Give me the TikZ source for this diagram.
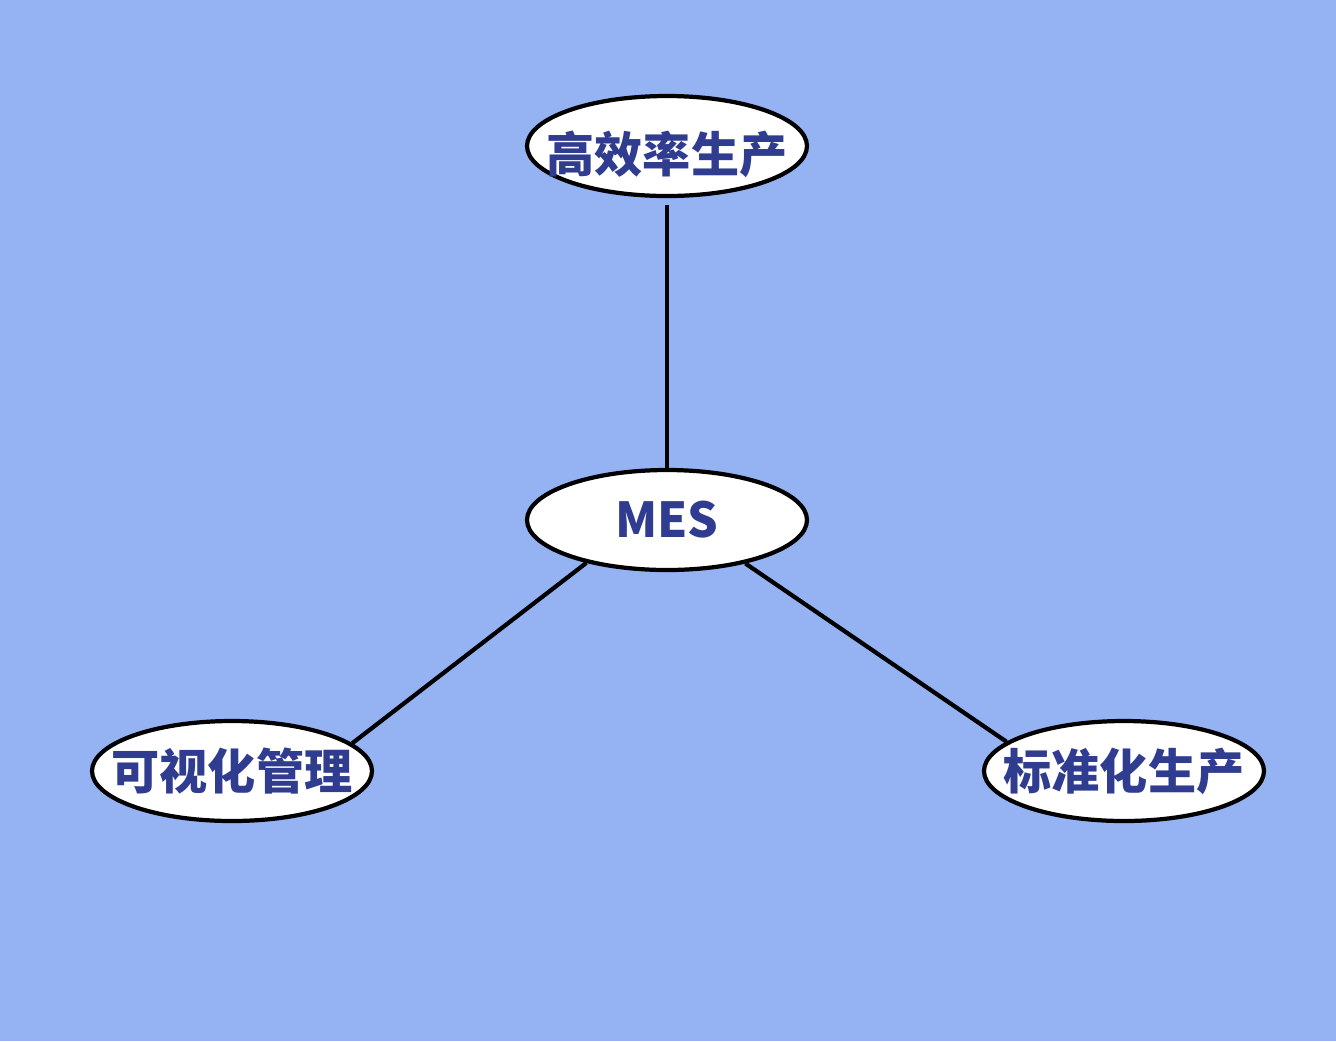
\documentclass[tikz,border=0pt]{standalone}
\usepackage{fontspec}
\usepackage{tikz}
\usetikzlibrary{shapes.geometric}
\newfontfamily\cjk{Noto Sans CJK SC}
\definecolor{bgblue}{HTML}{95B3F3}
\definecolor{inkblue}{HTML}{2F3C8F}
\tikzset{oval/.style={ellipse,draw=black,line width=1.2pt,fill=white,minimum width=28mm,minimum height=10mm,inner sep=0pt,text=inkblue,font=\cjk\bfseries\fontsize{13.7}{16}\selectfont},
link/.style={line width=1.2pt,draw=black}}
\newcommand\ovaltext[1]{\makebox[0pt]{#1}}

\begin{document}
\begin{tikzpicture}
\fill[bgblue] (0,0) rectangle (13.36,-10.41);
\useasboundingbox (0,0) rectangle (13.36,-10.41);
\node[oval] (eff) at (6.67,-1.46) {\ovaltext{\raisebox{-2.5pt}[\height][\depth]{高效率生产}}};
\node[oval] (mes) at (6.67,-5.20) {\ovaltext{MES}};
\node[oval] (vis) at (2.32,-7.71) {\ovaltext{可视化管理}};
\node[oval] (std) at (11.24,-7.71) {\ovaltext{标准化生产}};
\draw[link,shorten <=2pt] (eff.south) -- (mes.north);
\draw[link] (mes.208) -- (vis.13);
\draw[link] (mes.331) -- (std.166);
\end{tikzpicture}
\end{document}
